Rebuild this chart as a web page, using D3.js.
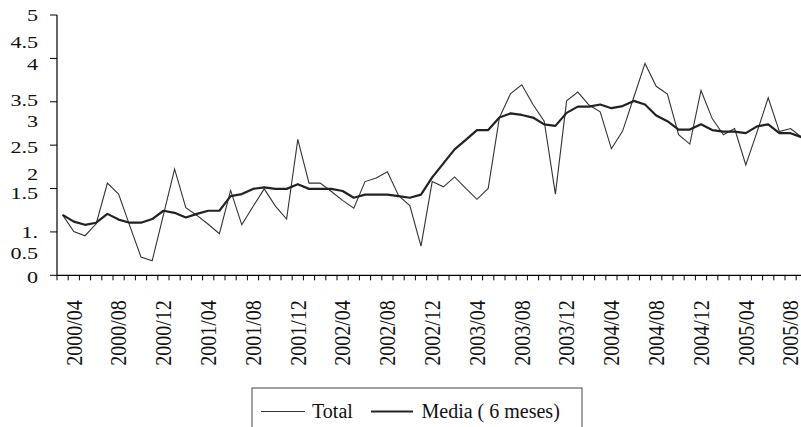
<!DOCTYPE html>
<html>
<head>
<meta charset="utf-8">
<script src="https://cdn.jsdelivr.net/npm/d3@7"></script>
<style>
  html, body { margin: 0; padding: 0; background: #fff; }
  svg { display: block; }
  text { font-family: "Liberation Serif", "Times New Roman", serif; fill: #111; }
</style>
</head>
<body>
<svg id="chart" width="801" height="427"></svg>
<script>
// ---- data ----
const firstMonth = [2000, 3];   // first category: 2000/03
const monthCount = 67;          // through 2005/09
const totalValues = [1.16,0.84,0.76,0.99,1.77,1.56,0.95,0.35,0.28,1.16,
  2.04,1.30,1.15,0.98,0.80,1.63,0.97,1.32,1.66,1.33,
  1.08,2.61,1.77,1.77,1.61,1.44,1.29,1.80,1.87,1.99,
  1.53,1.34,0.56,1.80,1.70,1.89,1.67,1.46,1.67,3.03,
  3.49,3.66,3.28,2.96,1.56,3.35,3.52,3.27,3.14,2.43,
  2.77,3.42,4.07,3.63,3.48,2.70,2.52,3.55,3.01,2.70,
  2.82,2.12,2.75,3.41,2.76,2.82,2.65];
const mediaValues = [1.16,1.03,0.97,1.01,1.18,1.07,1.01,1.01,1.08,1.24,
  1.20,1.11,1.18,1.24,1.24,1.52,1.56,1.66,1.69,1.66,
  1.66,1.75,1.66,1.66,1.66,1.62,1.49,1.55,1.55,1.55,
  1.52,1.49,1.55,1.88,2.15,2.42,2.60,2.79,2.79,3.03,
  3.11,3.08,3.03,2.90,2.87,3.12,3.24,3.24,3.28,3.21,
  3.25,3.35,3.28,3.07,2.96,2.80,2.80,2.90,2.79,2.76,
  2.76,2.73,2.86,2.90,2.73,2.73,2.65];
const xTickLabels = ["2000/04","2000/08","2000/12","2001/04","2001/08","2001/12",
  "2002/04","2002/08","2002/12","2003/04","2003/08","2003/12","2004/04","2004/08",
  "2004/12","2005/04","2005/08"];
const yTickLabels = ["5","4.5","4","3.5","3","2.5","2","1.5","1.","0.5","0"];
const yTickLabelAt = [5.0,4.47,4.05,3.37,2.96,2.46,1.94,1.58,0.82,0.43,-0.03];
const seriesNames = ["Total", "Media ( 6 meses)"];

// categories
const categories = d3.range(monthCount).map(i => {
  const m0 = firstMonth[1] - 1 + i;
  const yr = firstMonth[0] + Math.floor(m0 / 12);
  const m = (m0 % 12) + 1;
  return yr + "/" + String(m).padStart(2, "0");
});

// ---- layout ----
const svg = d3.select("#chart");
const plotLeft = 57, plotTop = 15, plotBottom = 275.3, step = 11.2;
const x = d3.scaleBand().domain(categories).range([plotLeft, plotLeft + monthCount * step]).padding(0);
const y = d3.scaleLinear().domain([0, 5]).range([plotBottom, plotTop]);
const cx = c => x(c) + x.bandwidth() / 2;

// axes lines
svg.append("line").attr("x1", plotLeft).attr("x2", plotLeft).attr("y1", y(5)).attr("y2", plotBottom)
  .attr("stroke", "#000").attr("stroke-width", 1.2);
svg.append("line").attr("x1", plotLeft).attr("x2", 801).attr("y1", plotBottom).attr("y2", plotBottom)
  .attr("stroke", "#000").attr("stroke-width", 1.2);

// y tick marks (7 evenly spaced)
const yTicks = d3.range(7).map(i => i * 5 / 6);
svg.selectAll(".ytick").data(yTicks).join("line")
  .attr("x1", plotLeft - 7).attr("x2", plotLeft)
  .attr("y1", d => y(d)).attr("y2", d => y(d))
  .attr("stroke", "#000").attr("stroke-width", 1);

// y labels
svg.selectAll(".ylab").data(yTickLabels).join("text")
  .attr("text-anchor", "end")
  .attr("transform", (d, i) => `translate(38,${y(yTickLabelAt[i])}) scale(1.3,1)`)
  .attr("dy", "0.34em")
  .attr("font-size", 17)
  .text(d => d);

// x tick marks at category boundaries
const xBounds = d3.range(monthCount + 1).map(i => plotLeft + i * step);
svg.selectAll(".xtick").data(xBounds).join("line")
  .attr("x1", d => d).attr("x2", d => d)
  .attr("y1", plotBottom).attr("y2", plotBottom + 5)
  .attr("stroke", "#000").attr("stroke-width", 1);

// x labels
svg.selectAll(".xlab").data(xTickLabels).join("text")
  .attr("text-anchor", "end")
  .attr("transform", d => `translate(${cx(d)},${plotBottom + 25}) scale(1.15,1) rotate(-90)`)
  .attr("dy", "0.34em")
  .attr("font-size", 20)
  .text(d => d);

// lines
const line = d3.line().x((d, i) => cx(categories[i])).y(d => y(d));
svg.append("path").datum(totalValues).attr("d", line)
  .attr("fill", "none").attr("stroke", "#333").attr("stroke-width", 1.1)
  .attr("stroke-linejoin", "miter");
svg.append("path").datum(mediaValues).attr("d", line)
  .attr("fill", "none").attr("stroke", "#222").attr("stroke-width", 2.2)
  .attr("stroke-linejoin", "round");

// legend
const lg = svg.append("g");
lg.append("rect").attr("x", 252).attr("y", 388).attr("width", 330).attr("height", 60)
  .attr("fill", "#fff").attr("stroke", "#444").attr("stroke-width", 1);
lg.append("line").attr("x1", 261).attr("x2", 305).attr("y1", 411.5).attr("y2", 411.5)
  .attr("stroke", "#333").attr("stroke-width", 1.1);
lg.append("text").attr("x", 312).attr("y", 417.5).attr("font-size", 20).text(seriesNames[0]);
lg.append("line").attr("x1", 371).attr("x2", 413).attr("y1", 411.5).attr("y2", 411.5)
  .attr("stroke", "#222").attr("stroke-width", 2.2);
lg.append("text").attr("x", 421.5).attr("y", 417.5).attr("font-size", 20).text(seriesNames[1]);
</script>
</body>
</html>
